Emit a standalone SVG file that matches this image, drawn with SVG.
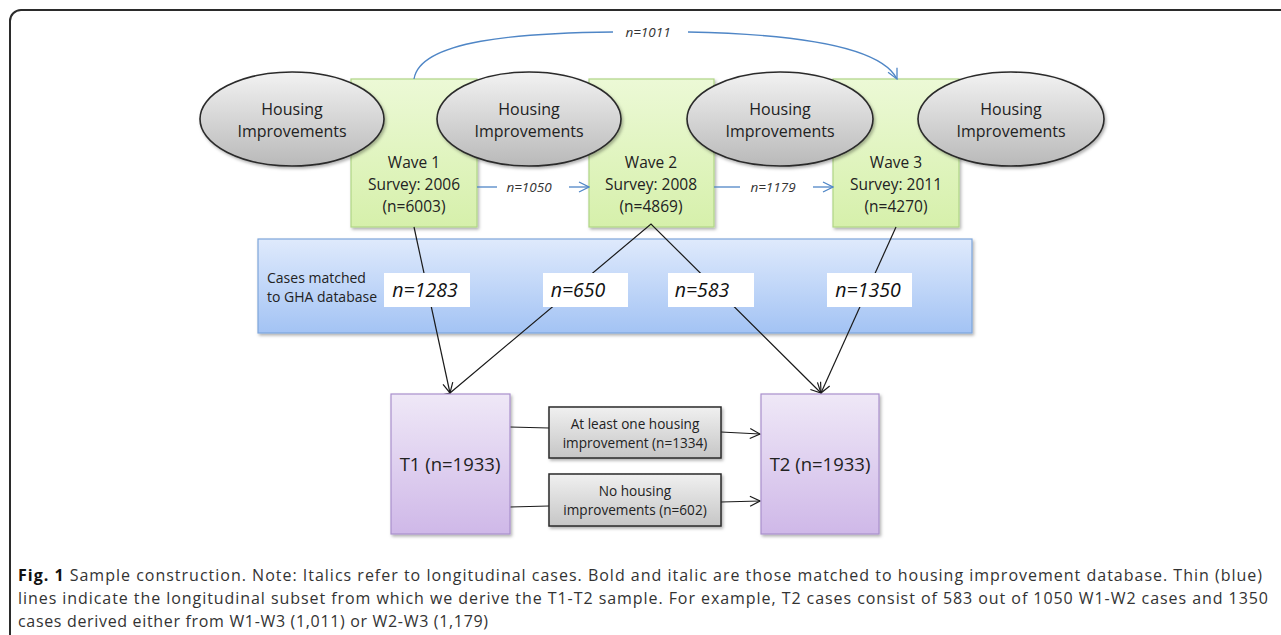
<svg xmlns="http://www.w3.org/2000/svg" width="1281" height="635" viewBox="0 0 1281 635">
<style>
  text { font-family: "Open Sans", "Noto Sans", sans-serif; fill: #222; }
  .ell { fill: url(#gEll); stroke: #2a2a2a; stroke-width: 1.6; }
  .ellt { font-size: 16px; text-anchor: middle; }
  .wave { fill: url(#gGreen); stroke: #b0d585; stroke-width: 1.2; }
  .wavet { font-size: 15.5px; text-anchor: middle; }
  .blue { fill: none; stroke: #4f86c6; stroke-width: 1.3; }
  .bluet { font-size: 13.5px; font-style: italic; text-anchor: middle; fill: #333; }
  .blk { fill: none; stroke: #1a1a1a; stroke-width: 1.2; }
  .lab { fill: #ffffff; }
  .labt { font-size: 19.5px; font-style: italic; text-anchor: middle; fill: #111; }
  .pur { fill: url(#gPurple); stroke: #a98fcc; stroke-width: 1.2; }
  .purt { font-size: 18.5px; text-anchor: middle; }
  .gbox { fill: url(#gGray); stroke: #2a2a2a; stroke-width: 1.5; }
  .gboxt { font-size: 13.6px; text-anchor: middle; }
  .cap { font-size: 16px; fill: #333; }
</style>
<defs>
  <linearGradient id="gEll" x1="0" y1="0" x2="0" y2="1">
    <stop offset="0" stop-color="#f2f2f2"/>
    <stop offset="1" stop-color="#b9b9b9"/>
  </linearGradient>
  <linearGradient id="gGreen" x1="0" y1="0" x2="0" y2="1">
    <stop offset="0" stop-color="#ecf9d6"/>
    <stop offset="1" stop-color="#d6f0ab"/>
  </linearGradient>
  <linearGradient id="gBlue" x1="0" y1="0" x2="0" y2="1">
    <stop offset="0" stop-color="#dfeafc"/>
    <stop offset="1" stop-color="#a3c3f4"/>
  </linearGradient>
  <linearGradient id="gPurple" x1="0" y1="0" x2="0" y2="1">
    <stop offset="0" stop-color="#efe8f7"/>
    <stop offset="1" stop-color="#cfb8e8"/>
  </linearGradient>
  <linearGradient id="gGray" x1="0" y1="0" x2="0" y2="1">
    <stop offset="0" stop-color="#f0f0f0"/>
    <stop offset="1" stop-color="#c6c6c6"/>
  </linearGradient>
  <filter id="sh" x="-10%" y="-10%" width="130%" height="130%">
    <feDropShadow dx="1.5" dy="2" stdDeviation="1.5" flood-color="#000" flood-opacity="0.3"/>
  </filter>
  <marker id="ab" viewBox="0 0 12 12" refX="11" refY="6" markerWidth="12" markerHeight="12" markerUnits="userSpaceOnUse" orient="auto">
    <path d="M1,1 L11,6 L1,11" fill="none" stroke="#4f86c6" stroke-width="1.3"/>
  </marker>
  <marker id="ak" viewBox="0 0 12 12" refX="11" refY="6" markerWidth="12" markerHeight="12" markerUnits="userSpaceOnUse" orient="auto">
    <path d="M1,1 L11,6 L1,11" fill="none" stroke="#1a1a1a" stroke-width="1.2"/>
  </marker>
</defs>

<rect x="10" y="10" width="1320" height="700" rx="11" ry="11" fill="#ffffff" stroke="#2b2b2b" stroke-width="2"/>

<g id="band">
  <rect x="258" y="239" width="714" height="94" fill="url(#gBlue)" stroke="#7ea6da" stroke-width="1.2" filter="url(#sh)"/>
  <text x="267" y="283" font-size="14px">Cases matched</text>
  <text x="267" y="302" font-size="14px">to GHA database</text>
</g>

<g id="wave1"><rect class="wave" x="351" y="79" width="126" height="148" filter="url(#sh)"/></g>
<g id="wave2"><rect class="wave" x="589" y="79" width="125" height="148" filter="url(#sh)"/></g>
<g id="wave3"><rect class="wave" x="833" y="79" width="126" height="148" filter="url(#sh)"/></g>

<g id="connectors">
  <path class="blue" d="M414,79 C420,40 520,33 613,32"/>
  <path class="blue" d="M688,32 C790,34 880,45 897,79" marker-end="url(#ab)"/>
  <line class="blue" x1="477" y1="187" x2="497" y2="187"/>
  <line class="blue" x1="569" y1="187" x2="589" y2="187" marker-end="url(#ab)"/>
  <line class="blue" x1="714" y1="187" x2="740" y2="187"/>
  <line class="blue" x1="813" y1="187" x2="833" y2="187" marker-end="url(#ab)"/>
  <line class="blk" x1="414" y1="227" x2="450" y2="393" marker-end="url(#ak)"/>
  <polyline class="blk" points="450,393 651,224 821,393" marker-start="url(#ak)" marker-end="url(#ak)"/>
  <line class="blk" x1="896" y1="227" x2="821" y2="393" marker-end="url(#ak)"/>
  <line class="blk" x1="510" y1="427" x2="549" y2="428"/>
  <line class="blk" x1="721" y1="432" x2="760" y2="434" marker-end="url(#ak)"/>
  <line class="blk" x1="510" y1="507" x2="549" y2="506"/>
  <line class="blk" x1="721" y1="502" x2="760" y2="501" marker-end="url(#ak)"/>
</g>

<g id="blue-labels">
  <text class="bluet" x="529" y="192">n=1050</text>
  <text class="bluet" x="773" y="192">n=1179</text>
  <text class="bluet" x="648" y="37">n=1011</text>
</g>

<g id="wave1-text">
  <text class="wavet" x="414" y="168">Wave 1</text>
  <text class="wavet" x="414" y="190">Survey: 2006</text>
  <text class="wavet" x="414" y="212">(n=6003)</text>
</g>
<g id="wave2-text">
  <text class="wavet" x="651" y="168">Wave 2</text>
  <text class="wavet" x="651" y="190">Survey: 2008</text>
  <text class="wavet" x="651" y="212">(n=4869)</text>
</g>
<g id="wave3-text">
  <text class="wavet" x="896" y="168">Wave 3</text>
  <text class="wavet" x="896" y="190">Survey: 2011</text>
  <text class="wavet" x="896" y="212">(n=4270)</text>
</g>

<g id="hi1"><ellipse class="ell" cx="292" cy="119" rx="92" ry="47" filter="url(#sh)"/>
  <text class="ellt" x="292" y="115">Housing</text><text class="ellt" x="292" y="137">Improvements</text></g>
<g id="hi2"><ellipse class="ell" cx="529" cy="119" rx="92" ry="47" filter="url(#sh)"/>
  <text class="ellt" x="529" y="115">Housing</text><text class="ellt" x="529" y="137">Improvements</text></g>
<g id="hi3"><ellipse class="ell" cx="780" cy="119" rx="93" ry="47" filter="url(#sh)"/>
  <text class="ellt" x="780" y="115">Housing</text><text class="ellt" x="780" y="137">Improvements</text></g>
<g id="hi4"><ellipse class="ell" cx="1011" cy="119" rx="93" ry="47" filter="url(#sh)"/>
  <text class="ellt" x="1011" y="115">Housing</text><text class="ellt" x="1011" y="137">Improvements</text></g>

<g id="lab1283"><rect class="lab" x="384" y="273" width="86" height="34"/><text class="labt" x="425" y="297">n=1283</text></g>
<g id="lab650"><rect class="lab" x="543" y="273" width="85" height="34"/><text class="labt" x="578" y="297">n=650</text></g>
<g id="lab583"><rect class="lab" x="668" y="273" width="86" height="34"/><text class="labt" x="702" y="297">n=583</text></g>
<g id="lab1350"><rect class="lab" x="827" y="273" width="85" height="34"/><text class="labt" x="868" y="297">n=1350</text></g>

<g id="t1"><rect class="pur" x="391" y="394" width="119" height="140" filter="url(#sh)"/>
  <text class="purt" x="450" y="471">T1 (n=1933)</text></g>
<g id="t2"><rect class="pur" x="761" y="394" width="118" height="140" filter="url(#sh)"/>
  <text class="purt" x="820" y="471">T2 (n=1933)</text></g>

<g id="imp"><rect class="gbox" x="549" y="407" width="172" height="51" filter="url(#sh)"/>
  <text class="gboxt" x="635" y="429">At least one housing</text>
  <text class="gboxt" x="635" y="448">improvement (n=1334)</text></g>
<g id="noimp"><rect class="gbox" x="549" y="474" width="172" height="52" filter="url(#sh)"/>
  <text class="gboxt" x="635" y="496">No housing</text>
  <text class="gboxt" x="635" y="515">improvements (n=602)</text></g>

<g id="caption">
  <text class="cap" x="18" y="581" textLength="1244" lengthAdjust="spacing"><tspan font-weight="bold" fill="#111">Fig. 1</tspan> Sample construction. Note: Italics refer to longitudinal cases. Bold and italic are those matched to housing improvement database. Thin (blue)</text>
  <text class="cap" x="18" y="604" textLength="1250" lengthAdjust="spacing">lines indicate the longitudinal subset from which we derive the T1-T2 sample. For example, T2 cases consist of 583 out of 1050 W1-W2 cases and 1350</text>
  <text class="cap" x="18" y="627" textLength="470" lengthAdjust="spacing">cases derived either from W1-W3 (1,011) or W2-W3 (1,179)</text>
</g>
</svg>
